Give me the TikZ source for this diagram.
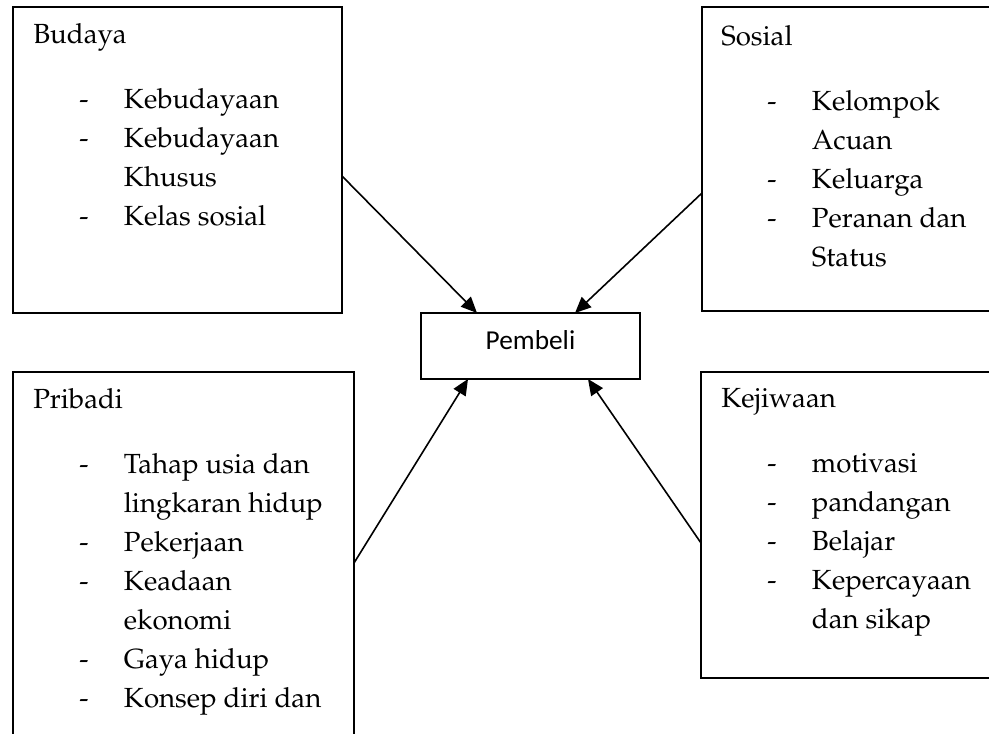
\documentclass[tikz,border=0pt]{standalone}
\usepackage[T1]{fontenc}
\usepackage{fontspec}
\newfontfamily\pembfont{Carlito}
\usetikzlibrary{arrows.meta}
\newcommand\palfont{\fontencoding{T1}\fontfamily{ppl}\fontsize{20.75}{29.25}\selectfont}
\newcommand\itm[1]{\hspace*{34.5pt}\makebox[33.5pt][l]{-}#1}
\newcommand\cnt[1]{\hspace*{68pt}#1}
\begin{document}
\begin{tikzpicture}[x=0.75pt,y=-0.75pt,
  box/.style={draw,line width=1.2pt,inner sep=0pt,outer sep=0pt,rectangle},
  lst/.style={anchor=north west,inner sep=0pt,align=left,font=\palfont},
  arr/.style={line width=1.2pt,-{Triangle[length=12pt,width=10.5pt]}}]
\useasboundingbox (0,0) rectangle (989,733);
\clip (0,0) rectangle (989,733);
% boxes
\node[box,minimum width=246.75pt,minimum height=229.5pt] (budaya) at (177.5,160) {};
\node[box,minimum width=223.5pt,minimum height=228pt] (sosial) at (851,159) {};
\node[box,minimum width=164.25pt,minimum height=49.5pt] (pembeli) at (530.5,346) {};
\node[box,minimum width=255.75pt,minimum height=279.75pt] (pribadi) at (183.5,558.5) {};
\node[box,minimum width=224.25pt,minimum height=229.5pt] (kejiwaan) at (850.5,525) {};
% texts
\node[lst] (tbudaya) at (33,23) {Budaya\\[19.5pt]
\itm{Kebudayaan}\\ \itm{Kebudayaan}\\ \cnt{Khusus}\\ \itm{Kelas sosial}};
\node[lst] (tsosial) at (721,25) {Sosial\\[19.5pt]
\itm{Kelompok}\\ \cnt{Acuan}\\ \itm{Keluarga}\\ \itm{Peranan dan}\\ \cnt{Status}};
\node[lst] (tpribadi) at (33,388) {Pribadi\\[19.5pt]
\itm{Tahap usia dan}\\ \cnt{lingkaran hidup}\\ \itm{Pekerjaan}\\ \itm{Keadaan}\\ \cnt{ekonomi}\\ \itm{Gaya hidup}\\ \itm{Konsep diri dan}};
\node[lst] (tkejiwaan) at (721,388) {Kejiwaan\\[19.5pt]
\itm{motivasi}\\ \itm{pandangan}\\ \itm{Belajar}\\ \itm{Kepercayaan}\\ \cnt{dan sikap}};
\node[font=\pembfont\fontsize{20.5}{24}\selectfont,inner sep=0pt] (tpembeli) at (530.5,340.5) {Pembeli};
% arrows
\draw[arr] (budaya.east |- 0,176) -- (pembeli.north -| 477,0);
\draw[arr] (sosial.west |- 0,193) -- (pembeli.north -| 575,0);
\draw[arr] (pribadi.east |- 0,563) -- (pembeli.south -| 468,0);
\draw[arr] (kejiwaan.west |- 0,543) -- (pembeli.south -| 588,0);
\end{tikzpicture}
\end{document}
